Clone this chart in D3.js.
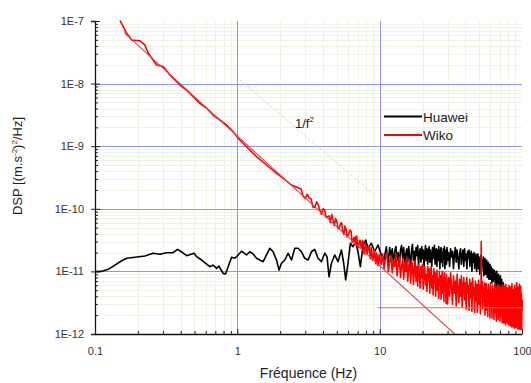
<!DOCTYPE html>
<html><head><meta charset="utf-8">
<script src="https://cdn.jsdelivr.net/npm/d3@7"></script>
<style>
body{margin:0;background:#fff;}
svg{display:block;font-family:"Liberation Sans",Arial,Helvetica,sans-serif;}
</style>
</head><body>
<svg id="chart" width="531" height="383"></svg>
<script>
// ---------- DATA ----------
// PSD values are given in units of 1e-12 (m.s^-2)^2/Hz ; pairs are [frequency Hz, PSD]
const PSD_UNIT = 1e-12;

const huaweiLow = [[0.1,9.9],[0.111,10],[0.124,10.8],[0.138,12.6],[0.154,14.8],[0.167,16.2],[0.191,16.8],[0.224,17.6],[0.256,19.5],[0.286,18.8],[0.318,19.9],[0.354,19.9],[0.38,22.5],[0.41,20.2],[0.44,17.8],[0.497,19.5],[0.517,17.2],[0.561,15.2],[0.641,11.9],[0.676,12.6],[0.715,11.2],[0.742,12.2],[0.795,9.3],[0.826,9.1],[0.862,11.9],[0.911,16.8],[0.96,16.2],[1.013,18.3],[1.07,21],
[1.16,18.3],[1.224,20.6],[1.291,19],[1.364,16.2],[1.438,15.2],[1.518,14.3],[1.603,18.3],[1.691,23.4],[1.783,20.6],[1.884,15.2],[1.965,10.5],[2.042,13.5],[2.154,15.2],[2.273,19.5],[2.401,15.2],[2.532,23.4],[2.672,23.4],[2.822,20.6],[2.976,16.2],[3.14,15.2],[3.317,20.6],[3.499,22.5],[3.69,16.2],[3.898,14.3],[4.111,19.5],[4.267,17.2],[4.407,8.2],[4.582,13.5],[4.833,18.3],[5.098,14.3],[5.385,22],[5.589,13.5],[5.772,7.3],[5.99,13.5],[6.227,28.1],[6.494,24.8],[6.785,29.8],[7.041,20.6],[7.32,11.9],[7.636,26.4],[7.977,31.7],[8.278,23.4],[8.747,28.1],[9.224,20.6],[9.729,26.4],[10.28,18.3],[10.7,15],[11.14,24.8]];

const huaweiHigh = [[11.25,19],[11.5,14],[11.75,24],[12,17],[12.25,23],[12.5,13],[12.75,21],[13,25],[13.25,15],[13.5,20],[13.75,12],[14,22],[14.25,26],[14.5,16],[14.75,24],[15,13],[15.25,19],[15.5,23],[15.75,14],[16,25],[16.25,17],[16.5,12],[16.75,22],[17,27],[17.25,15],[17.5,21],[17.75,13],[18,24],[18.25,18],[18.5,26],[18.75,12],[19,20],[19.25,23],[19.5,14],[19.75,25],[20,16],[20.25,22],[20.5,12],[20.75,19],[21,26],[21.25,15],[21.5,23],[21.75,13],[22,20],[22.25,25],[22.5,14],[22.75,22],[23,17],[23.25,12],[23.5,24],[23.75,16],[24,21],[24.25,26],[24.5,13],[24.75,19],[25,23],[25.25,12],[25.5,22],[25.75,15],[26,25],[26.25,18],[26.5,11],[26.75,21],[27,24],[27.25,14],[27.5,20],[27.75,12],[28,23],[28.25,16],[28.5,25],[28.75,11],[29,19],[29.25,22],[29.5,13],[29.75,24],[30,15],
[30.5,20],[31,12],[31.5,23],[32,17],[32.5,21],[33,11],[33.5,19],[34,24],[34.5,14],[35,22],[35.5,16],[36,11],[36.5,20],[37,23],[37.5,13],[38,18],[38.5,22],[39,12],[39.5,23],[40,15],[40.5,19],[41,11],[41.5,21],[42,16],[42.5,22],[43,12],[43.5,18],[44,21],[44.5,10],[45,19],[45.5,14],[46,20],[46.5,11],[47,17],[47.5,19],[48,10],[48.5,16],[49,19],[49.5,11],[50,17],[50.5,9],[51,15],[51.5,18],[52,10],[52.5,15],[53,13],[53.5,17],[54,8.5],[54.5,14],[55,16],[55.5,9],[56,13],[56.5,15],[57,8],[57.5,12],[58,14],[58.5,7.5],[59,12],[59.5,13],[60,7.5],[60.5,12],[61,10],[61.5,6.5],[62,11],[62.5,10.5],[63,7],[63.5,10.5],[64,8],[64.5,10],[65,5.5],[65.5,9],[66,7.5],[66.5,10],[67,5.2],[67.5,8.5],[68,6.5],[68.5,9],[69,4.8],[69.5,7.5],[70,5.8],[70.5,8.5],[71,4.4],[71.5,6.8],[72,7.5],[72.5,4.2],[73,6.3],[73.5,4.8],[74,6.6],[74.5,3.8],[75,5.8],[75.5,4.4],[76,5.4],[76.5,3.4],[77,5],[77.5,4],[78,5.4],[78.5,3],[79,4.6],[79.5,3.6],[80,5],[80.5,2.8],[81,4.2],[81.5,3.2],[82,4.8],[82.5,2.7],[83,4],[83.5,3],[84,4.6],[84.5,2.6],[85,3.8],[85.5,3],[86,4.4],[86.5,2.5],[87,3.6],[87.5,2.9],[88,4.2],[88.5,2.4],[89,3.5],[89.5,2.8],[90,4],[90.5,2.4],[91,3.4],[91.5,2.7],[92,3.9],[92.5,2.3],[93,3.3],[93.5,2.6],[94,3.8],[94.5,2.2],[95,3.2],[95.5,2.6],[96,3.7],[96.5,2.2],[97,3.1],[97.5,2.5],[98,3.6],[98.5,2.1],[99,3],[99.5,2.4],[100,3.4]];

const wikoLow = [[0.15,101000],[0.167,63600],[0.181,49700],[0.207,48400],[0.224,41400],[0.237,30500],[0.271,19800],[0.302,18600],[0.336,13700],[0.395,9500],[0.44,7900],[0.49,6180],[0.546,4840],[0.608,4030],[0.676,3150],[0.754,2620],[0.84,2180],[0.934,1710],[1.013,1340],[1.16,982],[1.364,680],[1.603,501],[1.834,387],[2.096,310],[2.4,240]];

const wikoMid = [[2.8,208],[2.9,159],[3.0,146],[3.1,170],[3.2,149],[3.3,144],[3.4,107],[3.5,105],[3.6,129],[3.7,117],[3.8,96],[3.9,82],[4.0,100],[4.1,97],[4.2,73],[4.3,75],[4.4,77],[4.5,61],[4.6,81],[4.7,66],[4.8,54],[4.9,70],[5.0,63],[5.1,48],[5.2,49],[5.3,58],[5.4,60],[5.5,43],[5.6,39],[5.7,53],[5.8,48],[5.9,35.5],[6.0,38],[6.1,41],[6.2,46],[6.3,43],[6.4,29],[6.5,31],[6.6,35],[6.7,26.6],[6.8,36],[6.9,36.7],[7.0,25],[7.1,24],[7.2,31],[7.3,31.4],[7.4,24],[7.5,28.5],[7.6,31.5],[7.7,21],[7.8,19],[7.9,28],[8.0,25],[8.1,18.9],[8.2,20],[8.3,24.3],[8.4,25],[8.5,21.2],[8.6,16],[8.7,24],[8.8,21.6],[8.9,15.1],[9.0,15.8],[9.1,19.4],[9.2,21.5],[9.3,15.1],[9.4,13.2],[9.5,19.6],[9.6,17.4],[9.7,12.4],[9.8,12.9],[9.9,18.6],[10.0,17.5]];

const wikoHigh = [[10.25,13],[10.5,19],[10.75,11],[11,16],[11.25,20],[11.5,10],[11.75,14],[12,18],[12.25,9.5],[12.5,15],[12.75,12],[13,19],[13.25,8.5],[13.5,13],[13.75,17],[14,8],[14.25,12],[14.5,16],[14.75,7.5],[15,14],[15.25,10],[15.5,17],[15.75,7],[16,12],[16.25,15],[16.5,6.5],[16.75,11],[17,14],[17.25,6.2],[17.5,10],[17.75,15],[18,7],[18.25,12],[18.5,5.8],[18.75,13],[19,9],[19.25,5.4],[19.5,12],[19.75,8],[20,13],[20.25,5.2],[20.5,10],[20.75,12],[21,6],[21.25,9],[21.5,4.8],[21.75,12],[22,7],[22.25,11],[22.5,4.5],[22.75,9],[23,12],[23.25,5.5],[23.5,8.5],[23.75,4.2],[24,11],[24.25,6.5],[24.5,9.5],[24.75,4],[25,8],[25.25,10.5],[25.5,5],[25.75,7.5],[26,3.7],[26.25,10],[26.5,6],[26.75,8.5],[27,3.6],[27.25,7],[27.5,10],[27.75,4.5],[28,8],[28.25,3.3],[28.5,9.5],[28.75,5.5],[29,7.5],[29.25,3.1],[29.5,9],[29.75,5],[30,3],
[30.5,8],[31,4],[31.5,9.5],[32,5.5],[32.5,3],[33,8.5],[33.5,4.5],[34,7],[34.5,2.8],[35,9],[35.5,5],[36,3.2],[36.5,7.5],[37,4],[37.5,8.5],[38,2.7],[38.5,6],[39,8],[39.5,3.5],[40,6.5],[40.5,2.5],[41,8],[41.5,4.5],[42,6],[42.5,2.4],[43,7.5],[43.5,3.8],[44,6.5],[44.5,2.3],[45,7.8],[45.5,4.2],[46,5.5],[46.5,2.2],[47,7],[47.5,3.4],[48,6.2],[48.5,2.2],[49,5],[49.5,7.2],[50,3],[50.5,6],[51,2.1],[51.5,5],[51.7,30],[52,4],[52.5,6.8],[53,2.5],[53.5,5.5],[54,3.2],[54.5,6.6],[55,2],[55.5,4.6],[56,6.4],[56.5,2.4],[57,5],[57.5,1.9],[58,6.2],[58.5,3.5],[59,5],[59.5,1.8],[60,6.6],[60.5,3],[61,4.5],[61.5,1.8],[62,6],[62.5,3.2],[63,5.2],[63.5,1.7],[64,4.2],[64.5,6.4],[65,2.2],[65.5,4.8],[66,1.6],[66.5,5.6],[67,3],[67.5,6.2],[68,1.7],[68.5,4.4],[69,2.6],[69.5,6],[70,1.6],[70.5,3.8],[71,5.6],[71.5,2],[72,4.6],[72.5,1.5],[73,6.2],[73.5,2.8],[74,4.8],[74.5,1.5],[75,5.8],[75.5,2.4],[76,4],[76.5,1.4],[77,6.2],[77.5,3],[78,4.6],[78.5,1.5],[79,5.4],[79.5,2.2],[80,3.6],[80.5,1.4],[81,6],[81.5,2.8],[82,4.4],[82.5,1.35],[83,5.6],[83.5,2],[84,3.8],[84.5,1.3],[85,6.4],[85.5,2.6],[86,4.2],[86.5,1.3],[87,5.2],[87.5,1.9],[88,3.6],[88.5,1.25],[89,6],[89.5,2.4],[90,4.4],[90.5,1.25],[91,5.4],[91.5,2],[92,6.6],[92.5,1.3],[93,3.8],[93.5,1.2],[94,5.6],[94.5,2.4],[95,4.2],[95.5,1.2],[96,6.2],[96.5,2],[97,4],[97.5,1.18],[98,5.8],[98.5,1.6],[99,4.4],[99.5,1.2],[100,3.6]];

// fitted lines (Wiko) and faint 1/f^2 guide
const fitSlope = [[0.16, 65000], [33.6, 1]];
const fitFloor = [[9.7, 2.63], [100, 2.63]];
const guide = [[1.04, 11500], [9.2, 166]];

const xTickValues = [0.1, 1, 10, 100];
const xTickLabels = ["0.1", "1", "10", "100"];
const yTickValues = [1e-12, 1e-11, 1e-10, 1e-9, 1e-8, 1e-7];
const yTickLabels = ["1E-12", "1E-11", "1E-10", "1E-9", "1E-8", "1E-7"];
const seriesNames = ["Huawei", "Wiko"];
const seriesColors = ["#000000", "#ff0000"];

// ---------- CHART ----------
const W = 531, H = 383;
const margin = {left: 95, right: 9, top: 21, bottom: 49};
const svg = d3.select("#chart");
const x = d3.scaleLog().domain([0.1, 100]).range([margin.left, W - margin.right]);
const y = d3.scaleLog().domain([1e-12, 1e-7]).range([H - margin.bottom, margin.top]);
const x0 = x.range()[0], x1 = x.range()[1], y0 = y.range()[0], y1 = y.range()[1];
const px = v => Math.round(v) + 0.5;

const xMinor = [], yMinor = [];
xTickValues.slice(0, -1).forEach(d => { for (let k = 2; k <= 9; k++) xMinor.push(d * k); });
yTickValues.slice(0, -1).forEach(d => { for (let k = 2; k <= 9; k++) yMinor.push(d * k); });

const grid = svg.append("g").attr("shape-rendering", "crispEdges");
grid.append("g").selectAll("line").data(xMinor).join("line")
  .attr("x1", d => px(x(d))).attr("x2", d => px(x(d))).attr("y1", y1).attr("y2", y0)
  .attr("stroke", "#edf4e4").attr("stroke-width", 1);
grid.append("g").selectAll("line").data(yMinor).join("line")
  .attr("y1", d => px(y(d))).attr("y2", d => px(y(d))).attr("x1", x0).attr("x2", x1)
  .attr("stroke", "#edf4e4").attr("stroke-width", 1);
grid.append("g").selectAll("line").data(xTickValues.slice(1, -1)).join("line")
  .attr("x1", d => px(x(d))).attr("x2", d => px(x(d))).attr("y1", y1).attr("y2", y0)
  .attr("stroke", "#9494ea").attr("stroke-width", 1);
grid.append("g").selectAll("line").data(yTickValues.slice(1, -1)).join("line")
  .attr("y1", d => px(y(d))).attr("y2", d => px(y(d))).attr("x1", x0).attr("x2", x1)
  .attr("stroke", "#9494ea").attr("stroke-width", 1);

svg.append("clipPath").attr("id", "plotclip").append("rect")
  .attr("x", x0).attr("y", y1 - 2).attr("width", x1 - x0 + 1).attr("height", y0 - y1 + 2);
const plot = svg.append("g").attr("clip-path", "url(#plotclip)");

const line = d3.line().x(d => x(d[0])).y(d => y(d[1] * PSD_UNIT));

plot.append("path").datum(guide).attr("d", line)
  .attr("fill", "none").attr("stroke", "#d6d6d6").attr("stroke-width", 1).attr("stroke-dasharray", "3,2");

plot.append("path").datum(huaweiLow.concat(huaweiHigh)).attr("d", line)
  .attr("fill", "none").attr("stroke", seriesColors[0]).attr("stroke-width", 1.6).attr("stroke-linejoin", "round");
plot.append("path").datum(wikoLow.concat(wikoMid, wikoHigh)).attr("d", line)
  .attr("fill", "none").attr("stroke", seriesColors[1]).attr("stroke-width", 1.6).attr("stroke-linejoin", "round");

plot.append("path").datum(fitSlope).attr("d", line)
  .attr("fill", "none").attr("stroke", "#d24a4a").attr("stroke-width", 1.1);
plot.append("path").datum(fitFloor).attr("d", line)
  .attr("fill", "none").attr("stroke", "#e06a6a").attr("stroke-width", 1.1);

// axes
const tickFont = g => g.selectAll("text").attr("font-size", 11).attr("fill", "#333")
  .attr("font-family", "'Liberation Sans', Arial, sans-serif");
svg.append("g").attr("transform", `translate(${x0},0)`)
  .call(d3.axisLeft(y).tickValues(yTickValues).tickFormat((d, i) => yTickLabels[i]).tickSize(4).tickPadding(7))
  .call(tickFont);
svg.append("g").attr("transform", `translate(${x0},0)`)
  .call(d3.axisRight(y).tickValues(yTickValues).tickFormat("").tickSize(5))
  .call(g => g.select(".domain").remove());
svg.append("g").attr("transform", `translate(${x0},0)`)
  .call(d3.axisRight(y).tickValues(yMinor).tickFormat("").tickSize(3))
  .call(g => g.select(".domain").remove());

svg.append("g").attr("transform", `translate(0,${y0})`)
  .call(d3.axisBottom(x).tickValues(xTickValues).tickFormat((d, i) => xTickLabels[i]).tickSize(0).tickPadding(13))
  .call(tickFont);
svg.append("g").attr("transform", `translate(0,${y0})`)
  .call(d3.axisTop(x).tickValues(xTickValues).tickFormat("").tickSize(5))
  .call(g => g.select(".domain").remove());
svg.append("g").attr("transform", `translate(0,${y0})`)
  .call(d3.axisTop(x).tickValues(xMinor).tickFormat("").tickSize(3))
  .call(g => g.select(".domain").remove());
svg.selectAll(".domain").attr("stroke", "#111").attr("stroke-width", 1.3);
svg.selectAll(".tick line").attr("stroke", "#222");

// axis titles
svg.append("text").attr("x", (x0 + x1) / 2).attr("y", 378).attr("text-anchor", "middle")
  .attr("font-size", 14).attr("fill", "#222").text("Fréquence (Hz)");
const yt = svg.append("text").attr("transform", "translate(22,166) rotate(-90)")
  .attr("text-anchor", "middle").attr("font-size", 13).attr("fill", "#222");
yt.append("tspan").text("DSP [(m.s");
yt.append("tspan").attr("font-size", 8).attr("dy", -5).text("-2");
yt.append("tspan").attr("dy", 5).text(")");
yt.append("tspan").attr("font-size", 8).attr("dy", -5).text("2");
yt.append("tspan").attr("dy", 5).text("/Hz]");

const ann = svg.append("text").attr("x", 295).attr("y", 128).attr("font-size", 13).attr("fill", "#222");
ann.append("tspan").text("1/f");
ann.append("tspan").attr("font-size", 8).attr("dy", -6).text("2");

// legend
const legY = [116.5, 135];
seriesNames.forEach((name, i) => {
  svg.append("line").attr("x1", 384).attr("x2", 422).attr("y1", legY[i]).attr("y2", legY[i])
    .attr("stroke", seriesColors[i]).attr("stroke-width", 1.8);
  svg.append("text").attr("x", 423).attr("y", legY[i] + 5).attr("font-size", 13.5).attr("fill", "#222").text(name);
});
</script>
</body></html>
